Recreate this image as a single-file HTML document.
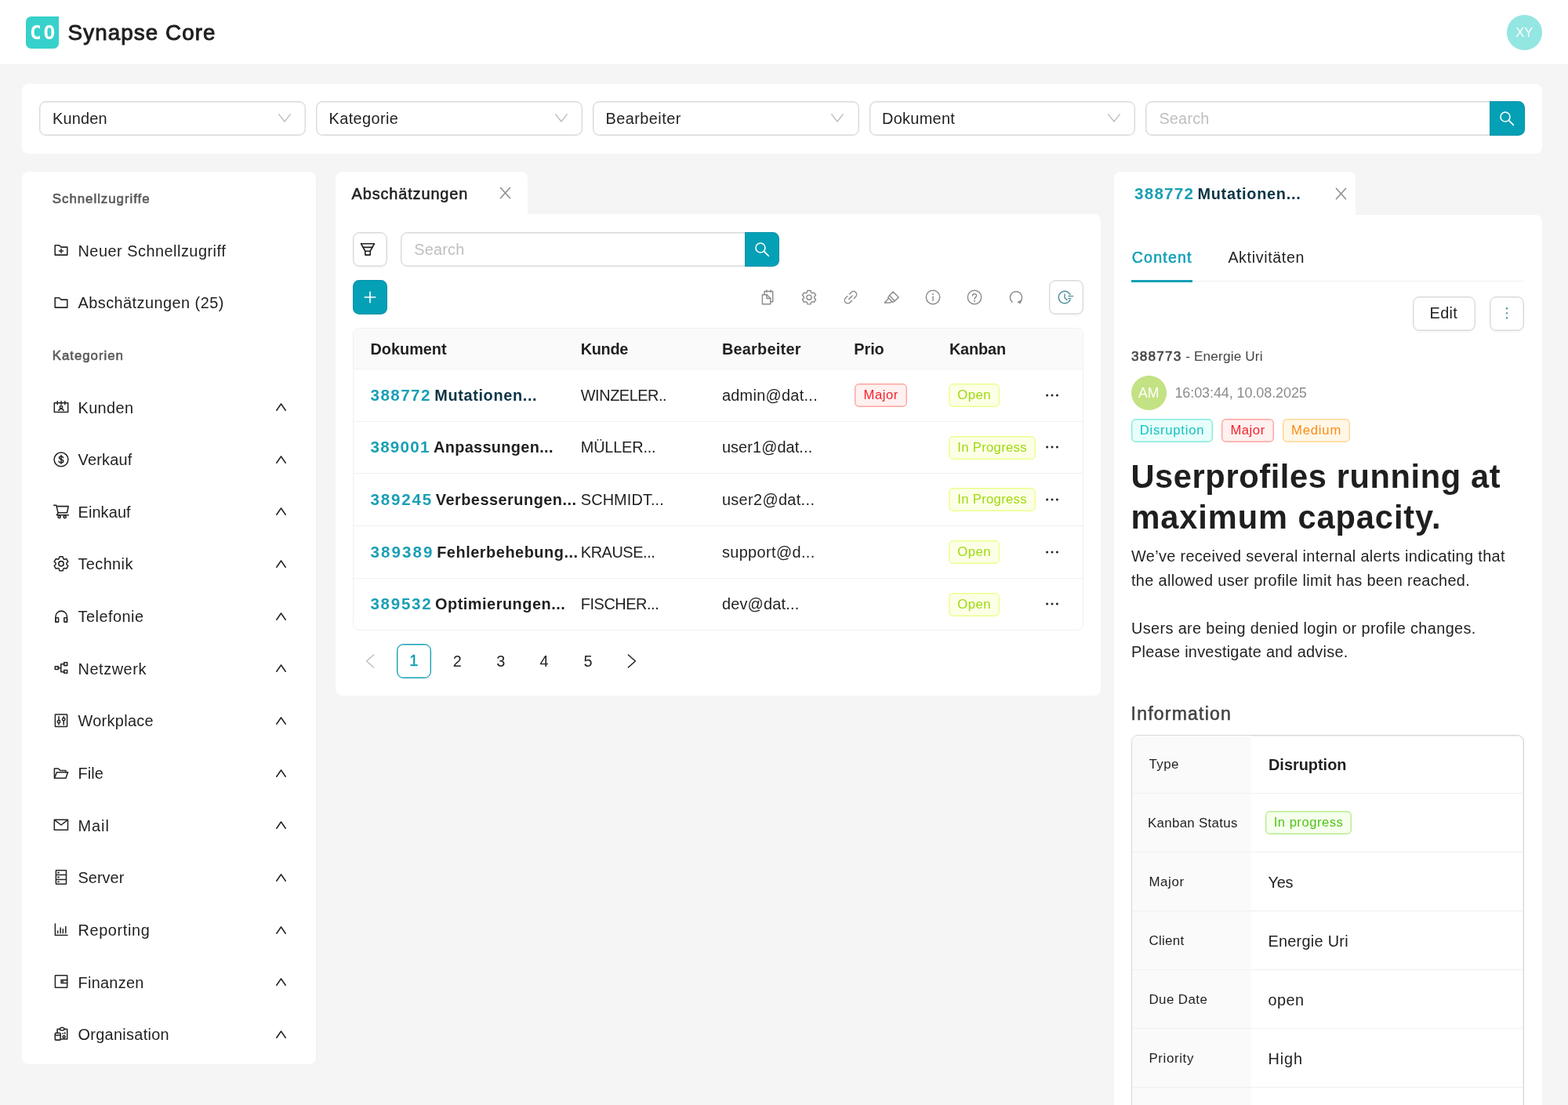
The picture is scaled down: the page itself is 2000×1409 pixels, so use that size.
<!DOCTYPE html><html lang="de">
<head>
<meta charset="utf-8">
<title>Synapse Core</title>
<style>
*{box-sizing:border-box}
html,body{margin:0;padding:0}
body{width:2000px;height:1409px;overflow:hidden;background:#f5f5f5;position:relative;
  font-family:"Liberation Sans",sans-serif;font-size:19.9px;line-height:30.55px;color:#1f1f1f;letter-spacing:.5px}
.abs{position:absolute}
.t{position:absolute;white-space:nowrap;line-height:30px;height:30px;margin-top:-15px;display:block}
.sb{font-weight:bold}
.md{-webkit-text-stroke:.55px currentColor}
header{position:absolute;left:0;top:0;width:2000px;height:82.6px;background:#fff;border-bottom:1px solid #f0f0f0}
.logo{position:absolute;left:33.3px;top:20.7px;width:41.7px;height:41.6px;border-radius:6.8px 0 6.8px 6.8px;background:#36d1cb;color:#fff;
  font-family:"DejaVu Sans Mono","Liberation Mono",monospace;font-weight:bold;font-size:24.6px;line-height:41.6px;text-align:center;letter-spacing:2.6px;text-indent:2.6px;white-space:nowrap}
.avatar{position:absolute;border-radius:50%;color:#fff;text-align:center;letter-spacing:0}
.card{position:absolute;background:#fff;border-radius:8.3px}
.sel{position:absolute;top:129.3px;height:43.9px;border:1px solid #d9d9d9;border-radius:8.3px;background:#fff;box-shadow:inset 0 0 0 .4px #d9d9d9}
.sel svg{position:absolute;right:18.2px;top:14.6px}
.ph{color:#bfbfbf}
.btnp{position:absolute;background:#04a0b6;box-shadow:inset 0 0 0 1px rgba(0,70,90,.16)}
.btn{position:absolute;background:#fff;border:1px solid #d9d9d9;border-radius:8.3px;box-shadow:0 2.8px 0 rgba(0,0,0,.02),inset 0 0 0 .4px #d9d9d9}
.menu{position:absolute;left:0;top:0;width:376.3px;height:1138.2px;margin:0;padding:0;list-style:none;border-right:1px solid #f0f0f0;border-radius:8.3px}
.menu li{position:relative;height:66.667px;margin:0;padding:0}
.menu li .t{top:33.7px}
.menu li.grp .t{top:34.7px;-webkit-text-stroke:.6px currentColor}
.menu li svg.ic{position:absolute;left:39.8px;top:23.33px}
.menu li svg.ch{position:absolute;left:324.2px;top:28.3px}
.grp{color:#595959}
table.grid{position:absolute;left:450.1px;top:418.4px;width:932.2px;border-collapse:separate;border-spacing:0;table-layout:fixed;
  border:1px solid #f0f0f0;border-radius:8.3px;overflow:hidden}
table.grid th,table.grid td{padding:0;margin:0;text-align:left;position:relative;white-space:nowrap;border-bottom:1px solid #f0f0f0;font-weight:normal}
table.grid th{height:51.4px;background:#fafafa;font-weight:bold}
table.grid td{height:67px}
table.grid tr.s td{height:66px}
table.grid tr:last-child td{border-bottom:0;height:65px}
table.grid .c{position:absolute;top:50%;white-space:nowrap;line-height:30px;height:30px;margin-top:-15px}
.num{color:#1a9fb5;font-size:20.6px}
.tag{position:absolute;height:30.3px;border-radius:5.6px;border:1px solid;box-shadow:inset 0 0 0 .4px;font-size:16.67px;line-height:27.5px;white-space:nowrap;text-align:center;letter-spacing:.4px}
.tag.red{color:#f5222d;background:#fff1f0;border-color:#ffa39e;box-shadow:inset 0 0 0 .4px #ffa39e}
.tag.lime{color:#a0d911;background:#fcffe6;border-color:#eaff8f;box-shadow:inset 0 0 0 .4px #eaff8f}
.tag.cyan{color:#13c2c2;background:#e6fffb;border-color:#87e8de;box-shadow:inset 0 0 0 .4px #87e8de}
.tag.orange{color:#fa8c16;background:#fff7e6;border-color:#ffd591;box-shadow:inset 0 0 0 .4px #ffd591}
.tag.green{color:#52c41a;background:#f6ffed;border-color:#b7eb8f;box-shadow:inset 0 0 0 .4px #b7eb8f}
.pg{position:absolute;top:820.7px;width:44px;height:44px;line-height:44px;text-align:center;letter-spacing:0}
.info{position:absolute;left:1443.4px;top:936.9px;width:500.6px;height:520px;border:1px solid #d9d9d9;box-shadow:inset 0 0 0 .4px #d9d9d9;border-radius:8.3px;overflow:hidden;background:#fff}
.info .row{position:relative;height:75px;border-bottom:1px solid #f0f0f0}
.info .lab{position:absolute;left:0;top:0;width:151.6px;height:100%;background:#fafafa}
.info .row:first-child{margin-top:-.9px}
.info .t{top:37.8px}
.info .t.lb{top:38.2px;font-size:16.9px}
</style>
</head>
<body>
<header>
<div class="logo">CO</div>
<span class="t" style="left: 86.6px; top: 41.6px; font-size: 27.78px; line-height: 40px; height: 40px; margin-top: -20px; color: rgb(31, 31, 31); -webkit-text-stroke: 0.95px rgb(31, 31, 31); letter-spacing: 1.09px;">Synapse Core</span>
<div class="avatar" style="left:1922px;top:19px;width:44.5px;height:44.5px;background:#93e6e2;font-size:16.4px;line-height:44.5px">XY</div>
</header>
<section class="card" style="left:27.8px;top:106.8px;width:1939px;height:88.8px"></section>
<div class="sel" style="left:50.4px;width:339.8px"><span class="t" style="left: 15.6px; top: 20.6px; letter-spacing: 0.2px;">Kunden</span><svg width="16" height="11" viewBox="0 0 16 11" fill="none" stroke="#bfbfbf" stroke-width="1.5" stroke-linecap="round" stroke-linejoin="round"><path d="M0.8 0.9 L8 10 L15.2 0.9"></path></svg></div>
<div class="sel" style="left:403px;width:340px"><span class="t" style="left: 15.6px; top: 20.6px; letter-spacing: 0.38px;">Kategorie</span><svg width="16" height="11" viewBox="0 0 16 11" fill="none" stroke="#bfbfbf" stroke-width="1.5" stroke-linecap="round" stroke-linejoin="round"><path d="M0.8 0.9 L8 10 L15.2 0.9"></path></svg></div>
<div class="sel" style="left:756px;width:339.6px"><span class="t" style="left: 15.6px; top: 20.6px; letter-spacing: 0.44px;">Bearbeiter</span><svg width="16" height="11" viewBox="0 0 16 11" fill="none" stroke="#bfbfbf" stroke-width="1.5" stroke-linecap="round" stroke-linejoin="round"><path d="M0.8 0.9 L8 10 L15.2 0.9"></path></svg></div>
<div class="sel" style="left:1108.5px;width:339.6px"><span class="t" style="left: 15.6px; top: 20.6px; letter-spacing: 0.29px;">Dokument</span><svg width="16" height="11" viewBox="0 0 16 11" fill="none" stroke="#bfbfbf" stroke-width="1.5" stroke-linecap="round" stroke-linejoin="round"><path d="M0.8 0.9 L8 10 L15.2 0.9"></path></svg></div>
<div class="sel" style="left:1461.4px;width:445px;border-radius:8.3px 0 0 8.3px"><span class="t ph" style="left: 16px; top: 20.6px; letter-spacing: 0.2px;">Search</span></div>
<div class="btnp" style="left:1900px;top:129.1px;width:44.5px;height:44.2px;border-radius:0 8.3px 8.3px 0"><svg style="position:absolute;left:11px;top:11px" width="22" height="22" viewBox="0 0 22 22" fill="none" stroke="#fff" stroke-width="1.6" stroke-linecap="round" stroke-linejoin="round"><circle cx="9" cy="9" r="6"></circle><path d="M13.6 13.6 L19.4 19.4"></path></svg></div>
<nav class="card" style="left:27.9px;top:219.2px;width:376.3px;height:1138.2px">
<ul class="menu">
<li class="grp"><span class="t" style="left: 38.9px; font-size: 16.9px; letter-spacing: 0.95px;">Schnellzugriffe</span></li>
<li><svg class="ic" width="20" height="20" viewBox="0 0 20 20" fill="none" stroke="#262626" stroke-width="1.55" stroke-linecap="round" stroke-linejoin="round"><path d="M2.2 16.1V3.7H7.6L9.8 6.1H17.8V16.1Z"></path><path d="M10 8.4V13.4M7.5 10.9H12.5"></path></svg><span class="t" style="left: 71.6px; letter-spacing: 0.5px;">Neuer Schnellzugriff</span></li>
<li><svg class="ic" width="20" height="20" viewBox="0 0 20 20" fill="none" stroke="#262626" stroke-width="1.55" stroke-linecap="round" stroke-linejoin="round"><path d="M2.2 16.1V3.7H7.6L9.8 6.1H17.8V16.1Z"></path></svg><span class="t" style="left: 71.6px; letter-spacing: 0.46px;">Abschätzungen (25)</span></li>
<li class="grp"><span class="t" style="left: 38.9px; font-size: 16.9px; letter-spacing: 0.93px;">Kategorien</span></li>
<li><svg class="ic" width="20" height="20" viewBox="0 0 20 20" fill="none" stroke="#262626" stroke-width="1.55" stroke-linecap="round" stroke-linejoin="round"><rect x="1.3" y="4.7" width="17.4" height="11.9"></rect><path d="M5.2 2.8V6.7M10 2.8V6.7M14.8 2.8V6.7"></path><circle cx="10" cy="10.1" r="1.7"></circle><path d="M6.9 14.5C7.6 11.6 12.4 11.6 13.1 14.5"></path></svg><span class="t" style="left: 71.6px; letter-spacing: 0.4px;">Kunden</span><svg class="ch" width="13" height="10" viewBox="0 0 13 10" fill="none" stroke="#262626" stroke-width="1.6" stroke-linecap="round" stroke-linejoin="round"><path d="M0.8 9.2 L6.5 1 L12.2 9.2"></path></svg></li>
<li><svg class="ic" width="20" height="20" viewBox="0 0 20 20" fill="none" stroke="#262626" stroke-width="1.55" stroke-linecap="round" stroke-linejoin="round"><circle cx="10" cy="9.9" r="8.9"></circle><path d="M12.6 7.6C12.2 5.6 7.4 5.4 7.4 7.8C7.4 10.2 12.8 9.4 12.8 12.1C12.8 14.6 7.6 14.5 7.1 12.3M10 4.6V15.3"></path></svg><span class="t" style="left: 71.6px; letter-spacing: 0.23px;">Verkauf</span><svg class="ch" width="13" height="10" viewBox="0 0 13 10" fill="none" stroke="#262626" stroke-width="1.6" stroke-linecap="round" stroke-linejoin="round"><path d="M0.8 9.2 L6.5 1 L12.2 9.2"></path></svg></li>
<li><svg class="ic" width="20" height="20" viewBox="0 0 20 20" fill="none" stroke="#262626" stroke-width="1.55" stroke-linecap="round" stroke-linejoin="round"><path d="M0.6 2.3H3.8L6.1 12.1L4.3 14.7H19.4"></path><path d="M4.4 3.6H19.2L17.6 11.7H6"></path><circle cx="7.6" cy="17" r="1.6"></circle><circle cx="14.7" cy="17" r="1.6"></circle></svg><span class="t" style="left: 71.6px; letter-spacing: 0.13px;">Einkauf</span><svg class="ch" width="13" height="10" viewBox="0 0 13 10" fill="none" stroke="#262626" stroke-width="1.6" stroke-linecap="round" stroke-linejoin="round"><path d="M0.8 9.2 L6.5 1 L12.2 9.2"></path></svg></li>
<li><svg class="ic" width="20" height="20" viewBox="0 0 20 20" fill="none" stroke="#262626" stroke-width="1.55" stroke-linecap="round" stroke-linejoin="round"><circle cx="10" cy="9.8" r="3.2"></circle><path d="M12.81 3.50 L12.07 0.84 L7.93 0.84 L7.19 3.50 L5.94 4.22 L3.27 3.53 L1.20 7.11 L3.14 9.08 L3.14 10.52 L1.20 12.49 L3.27 16.07 L5.94 15.38 L7.19 16.10 L7.93 18.76 L12.07 18.76 L12.81 16.10 L14.06 15.38 L16.73 16.07 L18.80 12.49 L16.86 10.52 L16.86 9.08 L18.80 7.11 L16.73 3.53 L14.06 4.22Z"></path></svg><span class="t" style="left: 71.6px; letter-spacing: 0.4px;">Technik</span><svg class="ch" width="13" height="10" viewBox="0 0 13 10" fill="none" stroke="#262626" stroke-width="1.6" stroke-linecap="round" stroke-linejoin="round"><path d="M0.8 9.2 L6.5 1 L12.2 9.2"></path></svg></li>
<li><svg class="ic" width="20" height="20" viewBox="0 0 20 20" fill="none" stroke="#262626" stroke-width="1.55" stroke-linecap="round" stroke-linejoin="round"><path d="M2.9 17.1V10.4A7.3 7.3 0 0 1 17.5 10.4V17.1"></path><rect x="2.9" y="11.8" width="3.7" height="5.3" rx=".6"></rect><rect x="13.8" y="11.8" width="3.7" height="5.3" rx=".6"></rect></svg><span class="t" style="left: 71.6px; letter-spacing: 0.5px;">Telefonie</span><svg class="ch" width="13" height="10" viewBox="0 0 13 10" fill="none" stroke="#262626" stroke-width="1.6" stroke-linecap="round" stroke-linejoin="round"><path d="M0.8 9.2 L6.5 1 L12.2 9.2"></path></svg></li>
<li><svg class="ic" width="20" height="20" viewBox="0 0 20 20" fill="none" stroke="#262626" stroke-width="1.55" stroke-linecap="round" stroke-linejoin="round"><rect x="2.3" y="7.7" width="4" height="3.8"></rect><rect x="13.7" y="2.8" width="4" height="3.8"></rect><rect x="13.7" y="12.5" width="4" height="3.8"></rect><path d="M6.3 9.7H9.8M13.7 4.7H9.8V14.8H13.7"></path></svg><span class="t" style="left: 71.6px; letter-spacing: 0.57px;">Netzwerk</span><svg class="ch" width="13" height="10" viewBox="0 0 13 10" fill="none" stroke="#262626" stroke-width="1.6" stroke-linecap="round" stroke-linejoin="round"><path d="M0.8 9.2 L6.5 1 L12.2 9.2"></path></svg></li>
<li><svg class="ic" width="20" height="20" viewBox="0 0 20 20" fill="none" stroke="#262626" stroke-width="1.55" stroke-linecap="round" stroke-linejoin="round"><rect x="2.4" y="2" width="15.2" height="15.5" rx=".5"></rect><path d="M7 4.7V9.4M7 13V14.9M13.2 4.7V6.4M13.2 10V14.9"></path><circle cx="7" cy="11.2" r="1.7"></circle><circle cx="13.2" cy="8.2" r="1.7"></circle></svg><span class="t" style="left: 71.6px; letter-spacing: 0.32px;">Workplace</span><svg class="ch" width="13" height="10" viewBox="0 0 13 10" fill="none" stroke="#262626" stroke-width="1.6" stroke-linecap="round" stroke-linejoin="round"><path d="M0.8 9.2 L6.5 1 L12.2 9.2"></path></svg></li>
<li><svg class="ic" width="20" height="20" viewBox="0 0 20 20" fill="none" stroke="#262626" stroke-width="1.55" stroke-linecap="round" stroke-linejoin="round"><path d="M1.4 15.8V4H6.3L8.9 6.4H15.9V8.8"></path><path d="M1.4 16.2L4.4 8.8H18.6L15.9 16.2Z"></path></svg><span class="t" style="left: 71.6px; letter-spacing: 0.13px;">File</span><svg class="ch" width="13" height="10" viewBox="0 0 13 10" fill="none" stroke="#262626" stroke-width="1.6" stroke-linecap="round" stroke-linejoin="round"><path d="M0.8 9.2 L6.5 1 L12.2 9.2"></path></svg></li>
<li><svg class="ic" width="20" height="20" viewBox="0 0 20 20" fill="none" stroke="#262626" stroke-width="1.55" stroke-linecap="round" stroke-linejoin="round"><rect x="1.3" y="3.2" width="17.2" height="13"></rect><path d="M1.7 3.6L10 10L18.1 3.6"></path></svg><span class="t" style="left: 71.6px; letter-spacing: 1px;">Mail</span><svg class="ch" width="13" height="10" viewBox="0 0 13 10" fill="none" stroke="#262626" stroke-width="1.6" stroke-linecap="round" stroke-linejoin="round"><path d="M0.8 9.2 L6.5 1 L12.2 9.2"></path></svg></li>
<li><svg class="ic" width="20" height="20" viewBox="0 0 20 20" fill="none" stroke="#262626" stroke-width="1.55" stroke-linecap="round" stroke-linejoin="round"><rect x="3.4" y=".8" width="13.1" height="17.5" rx=".5"></rect><path d="M4.2 6.4H15.7M4.2 12.4H15.7"></path><path d="M6.2 3.7H6.9M6.2 9.5H6.9M6.2 15.4H6.9" stroke-width="1.9"></path></svg><span class="t" style="left: 71.6px; letter-spacing: 0.04px;">Server</span><svg class="ch" width="13" height="10" viewBox="0 0 13 10" fill="none" stroke="#262626" stroke-width="1.6" stroke-linecap="round" stroke-linejoin="round"><path d="M0.8 9.2 L6.5 1 L12.2 9.2"></path></svg></li>
<li><svg class="ic" width="20" height="20" viewBox="0 0 20 20" fill="none" stroke="#262626" stroke-width="1.55" stroke-linecap="round" stroke-linejoin="round"><path d="M2.4 2.1V16.4H18"></path><path d="M5.7 11.1V13.7M9.1 7V13.7M12.3 8.8V13.7M15.8 5.5V13.7"></path></svg><span class="t" style="left: 71.6px; letter-spacing: 0.62px;">Reporting</span><svg class="ch" width="13" height="10" viewBox="0 0 13 10" fill="none" stroke="#262626" stroke-width="1.6" stroke-linecap="round" stroke-linejoin="round"><path d="M0.8 9.2 L6.5 1 L12.2 9.2"></path></svg></li>
<li><svg class="ic" width="20" height="20" viewBox="0 0 20 20" fill="none" stroke="#262626" stroke-width="1.55" stroke-linecap="round" stroke-linejoin="round"><rect x="2.4" y="1.8" width="15.3" height="15.4" rx=".5"></rect><path d="M17.7 7.6H10.1V11.4H17.7"></path><path d="M11.8 9.6H12.6" stroke-width="1.7"></path></svg><span class="t" style="left: 71.6px; letter-spacing: 0.29px;">Finanzen</span><svg class="ch" width="13" height="10" viewBox="0 0 13 10" fill="none" stroke="#262626" stroke-width="1.6" stroke-linecap="round" stroke-linejoin="round"><path d="M0.8 9.2 L6.5 1 L12.2 9.2"></path></svg></li>
<li><svg class="ic" width="20" height="20" viewBox="0 0 20 20" fill="none" stroke="#262626" stroke-width="1.55" stroke-linecap="round" stroke-linejoin="round"><path d="M5.1 8V3.3H8.3C8.6 .5 13.8 .5 14.1 3.3H17.7V16H9.2"></path><path d="M8.3 3.3C8.6 5.3 13.8 5.3 14.1 3.3"></path><rect x="2.3" y="8.2" width="6.8" height="8.9" rx=".8"></rect><path d="M2.3 10.9H9.1"></path><path d="M11.9 8.8H12.5M14.8 7.7V8.9" stroke-width="1.6"></path><circle cx="13.6" cy="12.9" r="1.5"></circle></svg><span class="t" style="left: 71.6px; letter-spacing: 0.31px;">Organisation</span><svg class="ch" width="13" height="10" viewBox="0 0 13 10" fill="none" stroke="#262626" stroke-width="1.6" stroke-linecap="round" stroke-linejoin="round"><path d="M0.8 9.2 L6.5 1 L12.2 9.2"></path></svg></li>
</ul></nav>
<div class="card" style="left:428px;top:219.3px;width:244.5px;height:60px;border-radius:8.3px 8.3px 0 0">
<span class="t md" style="left: 20.6px; top: 27.5px; letter-spacing: 0.88px;">Abschätzungen</span>
<svg style="position:absolute;left:208.9px;top:19.1px" width="15" height="16" viewBox="0 0 15 16" fill="none" stroke="#8c8c8c" stroke-width="1.5" stroke-linecap="round" stroke-linejoin="round"><path d="M1.4 1.2 L13.6 14.8 M13.6 1.2 L1.4 14.8"></path></svg>
</div>
<main class="card" style="left:428px;top:273.4px;width:976px;height:613.2px;border-radius:0 8.3px 8.3px 8.3px"></main>
<div class="btn" style="left:450px;top:295.8px;width:44.3px;height:43.8px"><svg style="position:absolute;left:8.3px;top:10.9px" width="20" height="20" viewBox="0 0 20 20" fill="none" stroke="#1f1f1f" stroke-width="1.6" stroke-linecap="round" stroke-linejoin="round"><path d="M1.5 2.7H18.5L13.2 12.25V17.1H6.8V12.25Z"></path><path d="M4.1 7.4H15.9M6.8 12.25H13.2"></path></svg></div>
<div class="sel" style="left:511.2px;top:295.8px;width:445px;height:43.8px;border-radius:8.3px 0 0 8.3px"><span class="t ph" style="left: 16px; top: 21.5px; letter-spacing: 0.2px;">Search</span></div>
<div class="btnp" style="left:950.1px;top:295.6px;width:44.4px;height:44.2px;border-radius:0 8.3px 8.3px 0"><svg style="position:absolute;left:11px;top:11px" width="22" height="22" viewBox="0 0 22 22" fill="none" stroke="#fff" stroke-width="1.6" stroke-linecap="round" stroke-linejoin="round"><circle cx="9" cy="9" r="6"></circle><path d="M13.6 13.6 L19.4 19.4"></path></svg></div>
<div class="btnp" style="left:450px;top:356.8px;width:44.4px;height:44px;border-radius:8.3px"><svg style="position:absolute;left:12.1px;top:12.1px" width="20" height="20" viewBox="0 0 20 20" fill="none" stroke="#fff" stroke-width="1.6" stroke-linecap="round" stroke-linejoin="round"><path d="M10 3.2v13.6M3.2 10h13.6"></path></svg></div>
<svg style="position:absolute;left:969.3px;top:368.8px" width="20" height="20" viewBox="0 0 20 20" fill="none" stroke="#8c8c8c" stroke-width="1.45" stroke-linecap="round" stroke-linejoin="round"><path d="M3.4 18.8V6.7H9L13.8 11.4V18.8Z"></path><path d="M9 6.7V11.4H13.8"></path><path d="M6.1 6.7V2.4H16.7V15.7H13.8"></path><path d="M8.9 .9V3.6M13.9 .9V3.6"></path></svg>
<svg style="position:absolute;left:1021.8px;top:368.8px" width="20" height="20" viewBox="0 0 20 20" fill="none" stroke="#8c8c8c" stroke-width="1.45" stroke-linecap="round" stroke-linejoin="round"><circle cx="10" cy="10.2" r="3.1"></circle><path d="M12.73 4.08 L12.00 1.53 L8.00 1.53 L7.27 4.08 L6.06 4.78 L3.49 4.13 L1.49 7.60 L3.34 9.50 L3.34 10.90 L1.49 12.80 L3.49 16.27 L6.06 15.62 L7.27 16.32 L8.00 18.87 L12.00 18.87 L12.73 16.32 L13.94 15.62 L16.51 16.27 L18.51 12.80 L16.66 10.90 L16.66 9.50 L18.51 7.60 L16.51 4.13 L13.94 4.78Z"></path></svg>
<svg style="position:absolute;left:1074.6px;top:368.8px" width="20" height="20" viewBox="0 0 20 20" fill="none" stroke="#8c8c8c" stroke-width="1.45" stroke-linecap="round" stroke-linejoin="round"><g transform="translate(10 10.2) rotate(-45)"><path d="M1.9 -4H5.2A4 4 0 0 1 5.2 4H1.9"></path><path d="M-1.9 -4H-5.2A4 4 0 0 0 -5.2 4H-1.9"></path><path d="M-3.1 0H3.1"></path></g></svg>
<svg style="position:absolute;left:1127.4px;top:368.8px" width="20" height="20" viewBox="0 0 20 20" fill="none" stroke="#8c8c8c" stroke-width="1.45" stroke-linecap="round" stroke-linejoin="round"><path d="M12.1 3.1L19.1 10.1L14.2 14.7L7.5 7.8Z"></path><path d="M7.5 7.8L5.7 10.4L11.4 16.3L14.2 14.7"></path><path d="M6 11.9L1.3 17H8.3L10.6 15.6"></path></svg>
<svg style="position:absolute;left:1180.2px;top:368.8px" width="20" height="20" viewBox="0 0 20 20" fill="none" stroke="#8c8c8c" stroke-width="1.45" stroke-linecap="round" stroke-linejoin="round"><circle cx="10" cy="10" r="8.7"></circle><path d="M10 9.2V14.2"></path><path d="M10 5.9V6.3" stroke-width="1.8"></path></svg>
<svg style="position:absolute;left:1233px;top:368.8px" width="20" height="20" viewBox="0 0 20 20" fill="none" stroke="#8c8c8c" stroke-width="1.45" stroke-linecap="round" stroke-linejoin="round"><circle cx="10" cy="10" r="8.7"></circle><path d="M7.5 8.1C7.5 4.9 12.6 4.9 12.6 7.9C12.6 9.8 10 9.9 10 12.2"></path><path d="M10 14.6V15" stroke-width="1.8"></path></svg>
<svg style="position:absolute;left:1285.7px;top:368.8px" width="20" height="20" viewBox="0 0 20 20" fill="none" stroke="#8c8c8c" stroke-width="1.45" stroke-linecap="round" stroke-linejoin="round"><path d="M5.1 16.2A7.6 7.6 0 1 1 15.2 16"></path><path d="M16.7 13.9L15.6 17.7L12.3 16.5Z" fill="#8c8c8c" stroke-width="1"></path></svg>
<div class="btn" style="left:1338px;top:357.2px;width:43.6px;height:43.4px"><svg style="position:absolute;left:9.4px;top:10.6px" width="22" height="20" viewBox="0 0 22 20" fill="none" stroke="#4f8f9b" stroke-width="1.4" stroke-linecap="round" stroke-linejoin="round"><path d="M16.98 6.75A7.7 7.7 0 1 0 16.98 13.25"></path><path d="M10 6.3V10.7L13.1 13.4"></path><path d="M14.8 8.6H20.6M14.8 11.6H17.8"></path></svg></div>
<table class="grid"><colgroup><col style="width:268.4px"><col style="width:180px"><col style="width:168.4px"><col style="width:122px"><col style="width:122px"><col></colgroup>
<thead><tr>
<th><span class="c" style="left: 21.4px; letter-spacing: -0.02px;">Dokument</span></th>
<th><span class="c" style="left: 21.3px; letter-spacing: -0.35px;">Kunde</span></th>
<th><span class="c" style="left: 21.4px; letter-spacing: 0.25px;">Bearbeiter</span></th>
<th><span class="c" style="left: 21.4px; letter-spacing: -0.06px;">Prio</span></th>
<th><span class="c" style="left: 21px; letter-spacing: -0.12px;">Kanban</span></th>
<th></th>
</tr></thead><tbody>
<tr>
<td><span class="c sb" style="left:21.4px"><span class="num" style="letter-spacing: 1.44px;">388772</span><span style="letter-spacing:-1.23px;white-space:pre"> </span><span style="color: rgb(11, 52, 70); letter-spacing: 0.65px;">Mutationen...</span></span></td>
<td><span class="c" style="left: 21.3px; letter-spacing: -0.44px;">WINZELER..</span></td>
<td><span class="c" style="left: 21.4px; letter-spacing: 0.29px;">admin@dat...</span></td>
<td><span class="tag red" style="left:22.5px;top:18.1px;width:66.6px"><span style="letter-spacing: 0.55px;">Major</span></span></td>
<td><span class="tag lime" style="left:20.3px;top:18.1px;width:65px"><span style="letter-spacing: 0.54px;">Open</span></span></td>
<td><svg style="position:absolute;left:20.8px;top:50%;margin-top:-3px" width="18" height="6" viewBox="0 0 18 6" fill="#262626" stroke-linecap="round" stroke-linejoin="round"><circle cx="2.6" cy="3" r="1.5"></circle><circle cx="9" cy="3" r="1.5"></circle><circle cx="15.4" cy="3" r="1.5"></circle></svg></td>
</tr>
<tr class="s">
<td><span class="c sb" style="left:21.4px"><span class="num" style="letter-spacing: 1.24px;">389001</span><span style="letter-spacing:-1.23px;white-space:pre"> </span><span style="letter-spacing: 0.34px;">Anpassungen...</span></span></td>
<td><span class="c" style="left: 21.3px; letter-spacing: -0.18px;">MÜLLER...</span></td>
<td><span class="c" style="left: 21.4px; letter-spacing: 0.1px;">user1@dat...</span></td>
<td></td>
<td><span class="tag lime" style="left:20.3px;top:18.1px;width:110.8px"><span style="letter-spacing: 0.32px;">In Progress</span></span></td>
<td><svg style="position:absolute;left:20.8px;top:50%;margin-top:-3px" width="18" height="6" viewBox="0 0 18 6" fill="#262626" stroke-linecap="round" stroke-linejoin="round"><circle cx="2.6" cy="3" r="1.5"></circle><circle cx="9" cy="3" r="1.5"></circle><circle cx="15.4" cy="3" r="1.5"></circle></svg></td>
</tr>
<tr>
<td><span class="c sb" style="left:21.4px"><span class="num" style="letter-spacing: 1.8px;">389245</span><span style="letter-spacing:-1.83px;white-space:pre"> </span><span style="letter-spacing: 0.5px;">Verbesserungen...</span></span></td>
<td><span class="c" style="left: 21.3px; letter-spacing: 0.11px;">SCHMIDT...</span></td>
<td><span class="c" style="left: 21.4px; letter-spacing: 0.35px;">user2@dat...</span></td>
<td></td>
<td><span class="tag lime" style="left:20.3px;top:18.1px;width:110.8px"><span style="letter-spacing: 0.32px;">In Progress</span></span></td>
<td><svg style="position:absolute;left:20.8px;top:50%;margin-top:-3px" width="18" height="6" viewBox="0 0 18 6" fill="#262626" stroke-linecap="round" stroke-linejoin="round"><circle cx="2.6" cy="3" r="1.5"></circle><circle cx="9" cy="3" r="1.5"></circle><circle cx="15.4" cy="3" r="1.5"></circle></svg></td>
</tr>
<tr>
<td><span class="c sb" style="left:21.4px"><span class="num" style="letter-spacing: 2.04px;">389389</span><span style="letter-spacing:-1.83px;white-space:pre"> </span><span style="letter-spacing: 0.54px;">Fehlerbehebung...</span></span></td>
<td><span class="c" style="left: 21.3px; letter-spacing: -0.42px;">KRAUSE...</span></td>
<td><span class="c" style="left: 21.4px; letter-spacing: 0.38px;">support@d...</span></td>
<td></td>
<td><span class="tag lime" style="left:20.3px;top:18.1px;width:65px"><span style="letter-spacing: 0.54px;">Open</span></span></td>
<td><svg style="position:absolute;left:20.8px;top:50%;margin-top:-3px" width="18" height="6" viewBox="0 0 18 6" fill="#262626" stroke-linecap="round" stroke-linejoin="round"><circle cx="2.6" cy="3" r="1.5"></circle><circle cx="9" cy="3" r="1.5"></circle><circle cx="15.4" cy="3" r="1.5"></circle></svg></td>
</tr>
<tr>
<td><span class="c sb" style="left:21.4px"><span class="num" style="letter-spacing: 1.68px;">389532</span><span style="letter-spacing:-1.83px;white-space:pre"> </span><span style="letter-spacing: 0.52px;">Optimierungen...</span></span></td>
<td><span class="c" style="left: 21.3px; letter-spacing: -0.44px;">FISCHER...</span></td>
<td><span class="c" style="left: 21.4px; letter-spacing: 0.2px;">dev@dat...</span></td>
<td></td>
<td><span class="tag lime" style="left:20.3px;top:18.1px;width:65px"><span style="letter-spacing: 0.54px;">Open</span></span></td>
<td><svg style="position:absolute;left:20.8px;top:50%;margin-top:-3px" width="18" height="6" viewBox="0 0 18 6" fill="#262626" stroke-linecap="round" stroke-linejoin="round"><circle cx="2.6" cy="3" r="1.5"></circle><circle cx="9" cy="3" r="1.5"></circle><circle cx="15.4" cy="3" r="1.5"></circle></svg></td>
</tr>
</tbody></table>
<svg style="position:absolute;left:466.2px;top:832.8px" width="12" height="20" viewBox="0 0 12 20" fill="none" stroke="#bfbfbf" stroke-width="1.5" stroke-linecap="round" stroke-linejoin="round"><path d="M10.6 2 L1.6 10 L10.6 18"></path></svg>
<div class="pg" style="left:505.8px;border:1px solid #13a0b6;box-shadow:inset 0 0 0 .4px #13a0b6;border-radius:8.3px;color:#13a0b6;line-height:41.6px;-webkit-text-stroke:.5px #13a0b6">1</div>
<div class="pg" style="left:561.2px">2</div>
<div class="pg" style="left:616.9px">3</div>
<div class="pg" style="left:672.1px">4</div>
<div class="pg" style="left:728px">5</div>
<svg style="position:absolute;left:800px;top:832.8px" width="12" height="20" viewBox="0 0 12 20" fill="none" stroke="#262626" stroke-width="1.6" stroke-linecap="round" stroke-linejoin="round"><path d="M1.4 2 L10.4 10 L1.4 18"></path></svg>
<div class="card" style="left:1421px;top:219.4px;width:308.1px;height:60px;border-radius:8.3px 8.3px 0 0">
<span class="t sb" style="left:26px;top:27.6px"><span class="num" style="letter-spacing: 1.24px;">388772</span><span style="letter-spacing:-1.33px;white-space:pre"> </span><span style="color: rgb(11, 52, 70); letter-spacing: 0.73px;">Mutationen...</span></span>
<svg style="position:absolute;left:281.9px;top:19.2px" width="15" height="16" viewBox="0 0 15 16" fill="none" stroke="#8c8c8c" stroke-width="1.5" stroke-linecap="round" stroke-linejoin="round"><path d="M1.4 1.2 L13.6 14.8 M13.6 1.2 L1.4 14.8"></path></svg>
</div>
<aside class="card" style="left:1421px;top:273.5px;width:546px;height:1200px;border-radius:0 8.3px 8.3px 8.3px"></aside>
<span class="t md" style="left: 1443.7px; top: 327.8px; color: rgb(19, 160, 182); font-size: 19.6px; letter-spacing: 1.2px;">Content</span>
<span class="t" style="left: 1566.4px; top: 327.8px; font-size: 19.6px; letter-spacing: 0.66px;">Aktivitäten</span>
<div class="abs" style="left:1443px;top:357.8px;width:501px;height:1.4px;background:#f0f0f0"></div>
<div class="abs" style="left:1443px;top:356.6px;width:78px;height:3px;background:#13a0b6"></div>
<div class="btn" style="left:1802px;top:377.8px;width:79.6px;height:43.8px"><span class="t" style="left: 20.6px; top: 20.6px; letter-spacing: 0.27px;">Edit</span></div>
<div class="btn" style="left:1900.3px;top:377.8px;width:43.7px;height:43.8px"><svg style="position:absolute;left:17.9px;top:11.6px" width="6" height="18" viewBox="0 0 6 18" fill="#4f8f9b" stroke-linecap="round" stroke-linejoin="round"><circle cx="3" cy="3.3" r="1.2"></circle><circle cx="3" cy="9.35" r="1.2"></circle><circle cx="3" cy="15.4" r="1.2"></circle></svg></div>
<span class="t" style="left:1443px;top:453.7px;font-size:17.2px;color:#434343"><span class="md" style="letter-spacing: 1.2px;">388773</span><span style="letter-spacing:-0.18px;white-space:pre"> </span><span style="letter-spacing: 0.16px;">- Energie Uri</span></span>
<div class="avatar" style="left:1443px;top:478.8px;width:44.5px;height:44.5px;background:#c3e283;font-size:17.6px;line-height:44.5px">AM</div>
<span class="t" style="left: 1498.4px; top: 501px; font-size: 18px; color: rgb(140, 140, 140); letter-spacing: -0.09px;">16:03:44, 10.08.2025</span>
<span class="tag cyan" style="left:1443.2px;top:534.2px;width:103.6px"><span style="letter-spacing: 0.75px;">Disruption</span></span>
<span class="tag red" style="left:1558.4px;top:534.2px;width:66.4px"><span style="letter-spacing: 0.55px;">Major</span></span>
<span class="tag orange" style="left:1636.4px;top:534.2px;width:85.4px"><span style="letter-spacing: 0.8px;">Medium</span></span>
<h1 class="abs" style="left:1442.4px;top:581.6px;margin:0;font-size:41.6px;line-height:52.6px;font-weight:bold;white-space:nowrap;color:#1f1f1f"><span style="letter-spacing: 0.62px;">Userprofiles running at</span><br><span style="letter-spacing: 0.91px;">maximum capacity.</span></h1>
<p class="abs" style="left:1443px;top:694px;margin:0;line-height:30.6px;white-space:nowrap"><span style="letter-spacing: 0.34px;">We’ve received several internal alerts indicating that</span><br><span style="letter-spacing: 0.34px;">the allowed user profile limit has been reached.</span><br><br><span style="letter-spacing: 0.36px;">Users are being denied login or profile changes.</span><br><span style="letter-spacing: 0.26px;">Please investigate and advise.</span></p>
<h2 class="t md" style="left: 1442.6px; top: 909.6px; font-size: 23px; color: rgb(67, 67, 67); font-weight: normal; margin-bottom: 0px; letter-spacing: 1.22px;">Information</h2>
<div class="info">
<div class="row"><div class="lab"></div>
<span class="t lb" style="left: 21px; letter-spacing: 0.47px;">Type</span>
<span class="t sb" style="left: 173.6px; letter-spacing: 0px;">Disruption</span>
</div>
<div class="row"><div class="lab"></div>
<span class="t lb" style="left: 19.6px; letter-spacing: 0.3px;">Kanban Status</span>
<span class="tag green" style="left:169.4px;top:22.2px;width:110.4px"><span style="letter-spacing: 0.48px;">In progress</span></span>
</div>
<div class="row"><div class="lab"></div>
<span class="t lb" style="left: 21px; letter-spacing: 0.6px;">Major</span>
<span class="t" style="left: 173px; letter-spacing: -0.2px;">Yes</span>
</div>
<div class="row"><div class="lab"></div>
<span class="t lb" style="left: 21px; letter-spacing: 0.32px;">Client</span>
<span class="t" style="left: 173px; letter-spacing: 0.28px;">Energie Uri</span>
</div>
<div class="row"><div class="lab"></div>
<span class="t lb" style="left: 21px; letter-spacing: 0.45px;">Due Date</span>
<span class="t" style="left: 173px; letter-spacing: 0.47px;">open</span>
</div>
<div class="row"><div class="lab"></div>
<span class="t lb" style="left: 21px; letter-spacing: 0.63px;">Priority</span>
<span class="t" style="left: 173px; letter-spacing: 0.94px;">High</span>
</div>
<div class="row"><div class="lab"></div>
</div>
</div>

</body></html>
